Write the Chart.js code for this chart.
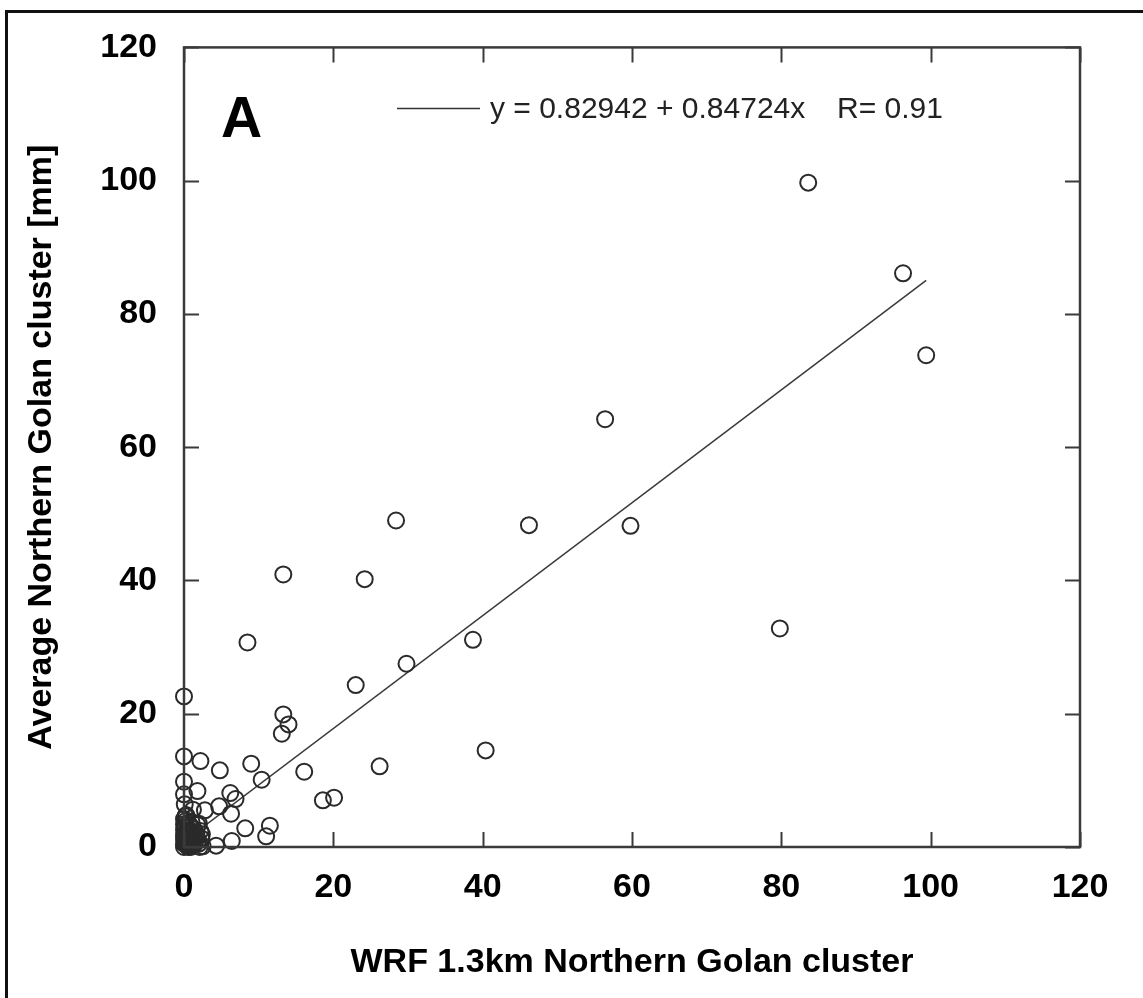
<!DOCTYPE html>
<html>
<head>
<meta charset="utf-8">
<script src="https://cdn.jsdelivr.net/npm/chart.js@4.4.1/dist/chart.umd.min.js"></script>
<style>
  html, body { margin: 0; padding: 0; background: #fff; }
  canvas { display: block; }
</style>
</head>
<body>
<canvas id="scatterChart" width="1143" height="998"></canvas>
<script>
// WRF 1.3km (x) vs. observed average (y), Northern Golan cluster
const wrfX = [
  83.6, 96.3, 99.4, 56.4, 46.2, 59.8, 28.4, 13.3, 24.2, 8.5,
  38.7, 79.8, 29.8, 23.0, 0.0, 13.3, 14.0, 13.1, 40.4, 26.2,
  0.0, 2.2, 4.8, 9.0, 10.4, 16.1, 0.0, 1.8, 0.0, 6.2,
  6.9, 4.7, 2.8, 1.2, 6.3, 2.0, 8.2, 11.5, 11.0, 6.4,
  4.3, 18.6, 20.1, 2.4, 0.1, 0.3, 0.2,
  0.0, 0.2, 0.5, 0.1, 0.4, 0.0, 0.3, 0.1, 0.0, 0.2,
  0.8, 1.0, 0.7, 1.2, 1.5, 1.7, 1.3, 0.9, 2.0, 2.2,
  1.8, 0.0, 0.6, 1.0, 0.3, 2.5, 0.0, 0.5,
  0.1, 0.4, 0.7, 1.1, 1.4, 1.9, 2.3, 0.0, 0.6, 1.6,
  0.2, 0.9, 1.3, 0.0, 0.5, 2.1, 0.3, 1.0
];
const obsY = [
  99.7, 86.1, 73.8, 64.2, 48.3, 48.2, 49.0, 40.9, 40.2, 30.7,
  31.1, 32.8, 27.5, 24.3, 22.6, 19.9, 18.4, 17.0, 14.5, 12.1,
  13.6, 12.9, 11.5, 12.5, 10.1, 11.3, 9.8, 8.4, 7.9, 8.1,
  7.2, 6.1, 5.5, 5.6, 5.0, 3.5, 2.8, 3.2, 1.6, 0.9,
  0.2, 7.0, 7.4, 1.9, 6.4, 4.8, 4.6,
  0.0, 0.4, 0.1, 0.9, 1.4, 1.8, 2.3, 2.9, 3.4, 3.9,
  0.6, 1.2, 2.0, 0.2, 0.9, 1.6, 2.7, 3.1, 0.5, 2.4,
  3.3, 0.5, 0.0, 0.3, 0.7, 0.1, 1.2, 2.8,
  1.6, 0.2, 1.1, 2.2, 0.4, 1.0, 1.3, 2.6, 3.6, 2.1,
  3.2, 0.0, 1.8, 4.2, 2.0, 0.0, 1.1, 3.8
];

// fitted line end points
const fitX = [0, 99.4];
const fitY = [0.83, 85.05];
const fitLabel = 'y = 0.82942 + 0.84724x';
const fitR = 'R= 0.91';

const tickValues = [0, 20, 40, 60, 80, 100, 120];
const panelLetter = 'A';
const xTitle = 'WRF 1.3km Northern Golan cluster';
const yTitle = 'Average Northern Golan cluster [mm]';

const FONT = "'Liberation Sans', Arial, Helvetica, sans-serif";

const points = wrfX.map((x, i) => ({ x: x, y: obsY[i] }));
const fitPoints = fitX.map((x, i) => ({ x: x, y: fitY[i] }));

// frame, inward ticks, legend and panel letter
const decorations = {
  id: 'decorations',
  afterDraw(chart) {
    const ctx = chart.ctx;
    const area = chart.chartArea;
    const xs = chart.scales.x;
    const ys = chart.scales.y;
    ctx.save();

    // outer figure frame
    ctx.strokeStyle = '#111';
    ctx.lineWidth = 3;
    ctx.beginPath();
    ctx.moveTo(6.5, 998);
    ctx.lineTo(6.5, 11.5);
    ctx.lineTo(1143, 11.5);
    ctx.stroke();

    // plot box
    ctx.strokeStyle = '#3a3a3a';
    ctx.lineWidth = 2.5;
    ctx.strokeRect(area.left, area.top, area.right - area.left, area.bottom - area.top);

    // inward ticks on all four sides
    ctx.lineWidth = 2;
    const tl = 15;
    ctx.beginPath();
    tickValues.forEach(v => {
      const px = Math.round(xs.getPixelForValue(v)) + 0.5;
      ctx.moveTo(px, area.bottom); ctx.lineTo(px, area.bottom - tl);
      ctx.moveTo(px, area.top); ctx.lineTo(px, area.top + tl);
      const py = Math.round(ys.getPixelForValue(v)) + 0.5;
      ctx.moveTo(area.left, py); ctx.lineTo(area.left + tl, py);
      ctx.moveTo(area.right, py); ctx.lineTo(area.right - tl, py);
    });
    ctx.stroke();

    // legend
    ctx.strokeStyle = '#333';
    ctx.lineWidth = 1.5;
    ctx.beginPath();
    ctx.moveTo(397, 108.5);
    ctx.lineTo(480, 108.5);
    ctx.stroke();
    ctx.fillStyle = '#222';
    ctx.font = '30px ' + FONT;
    ctx.textBaseline = 'middle';
    ctx.textAlign = 'left';
    ctx.fillText(fitLabel, 490, 110);
    ctx.fillText(fitR, 837, 110);

    // panel letter
    ctx.fillStyle = '#000';
    ctx.font = 'bold 57px ' + FONT;
    ctx.textBaseline = 'alphabetic';
    ctx.fillText(panelLetter, 221, 137);

    ctx.restore();
  }
};

const ctx = document.getElementById('scatterChart').getContext('2d');
const chart = new Chart(ctx, {
  type: 'scatter',
  data: {
    datasets: [
      {
        label: 'Northern Golan',
        data: points,
        pointStyle: 'circle',
        pointRadius: 8,
        pointHoverRadius: 8,
        borderWidth: 2,
        borderColor: '#2a2a2a',
        backgroundColor: 'rgba(0,0,0,0)',
        clip: false
      },
      {
        type: 'line',
        label: fitLabel,
        data: fitPoints,
        borderColor: '#3a3a3a',
        borderWidth: 1.5,
        pointRadius: 0,
        fill: false
      }
    ]
  },
  options: {
    responsive: false,
    animation: false,
    devicePixelRatio: 1,
    layout: { padding: { left: 0, right: 63, top: 45, bottom: 0 } },
    plugins: {
      legend: { display: false },
      tooltip: { enabled: false }
    },
    scales: {
      x: {
        type: 'linear',
        min: 0,
        max: 120,
        afterFit: scale => { scale.height = 151; },
        grid: { display: false, drawTicks: false },
        border: { display: false },
        ticks: {
          stepSize: 20,
          autoSkip: false,
          maxRotation: 0,
          padding: 20,
          color: '#000',
          font: { family: FONT, size: 34, weight: 'bold' }
        },
        title: {
          display: true,
          text: xTitle,
          color: '#000',
          padding: { top: 0, bottom: 15 },
          font: { family: FONT, size: 34, weight: 'bold' }
        }
      },
      y: {
        type: 'linear',
        min: 0,
        max: 120,
        afterFit: scale => { scale.width = 184; },
        grid: { display: false, drawTicks: false },
        border: { display: false },
        ticks: {
          stepSize: 20,
          autoSkip: false,
          padding: 27,
          color: '#000',
          font: { family: FONT, size: 34, weight: 'bold' }
        },
        title: {
          display: true,
          text: yTitle,
          color: '#000',
          padding: { top: 21, bottom: 0 },
          font: { family: FONT, size: 34, weight: 'bold' }
        }
      }
    }
  },
  plugins: [decorations]
});
</script>
</body>
</html>
